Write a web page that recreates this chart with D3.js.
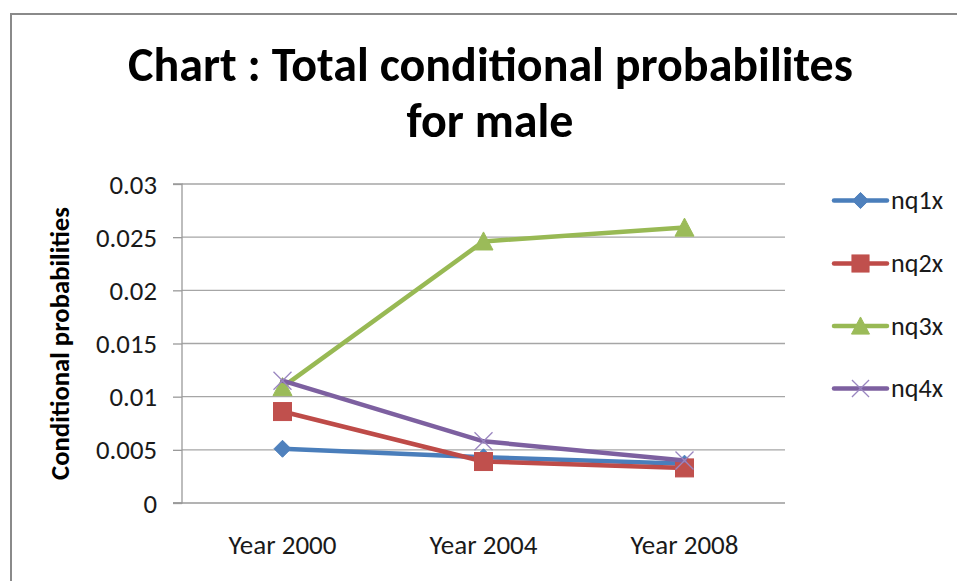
<!DOCTYPE html>
<html>
<head>
<meta charset="utf-8">
<script src="https://cdn.jsdelivr.net/npm/d3@7"></script>
<style>
  html, body { margin: 0; padding: 0; background: #fff; }
  svg { display: block; }
  text { font-family: Carlito, Lato, "Open Sans", sans-serif; }
</style>
</head>
<body>
<svg id="chart" width="957" height="581"></svg>
<script>
const categories = ["Year 2000", "Year 2004", "Year 2008"];
const seriesNames = ["nq1x", "nq2x", "nq3x", "nq4x"];
const nq1x = [0.0051, 0.0043, 0.0037];
const nq2x = [0.0086, 0.0039, 0.0033];
const nq3x = [0.0109, 0.0246, 0.0259];
const nq4x = [0.0115, 0.0058, 0.0040];
const yTicks = [0, 0.005, 0.01, 0.015, 0.02, 0.025, 0.03];
const yTickLabels = ["0", "0.005", "0.01", "0.015", "0.02", "0.025", "0.03"];
const titleLines = ["Chart : Total conditional probabilites", "for male"];
const yAxisTitle = "Conditional probabilities";

const seriesValues = [nq1x, nq2x, nq3x, nq4x];
const lineColors = ["#4A7EBB", "#BE4B48", "#98B954", "#7D60A0"];
const markerColors = ["#4F81BD", "#C0504D", "#9BBB59", "#9A86C0"];
const markerTypes = ["diamond", "square", "triangle", "x"];

const svg = d3.select("#chart");

// Outer chart border (extends beyond the visible frame)
svg.append("rect")
  .attr("x", 11).attr("y", 14).attr("width", 1200).attr("height", 1200)
  .attr("fill", "none").attr("stroke", "#8a8a8a").attr("stroke-width", 2);

function fit(sel, target, start) {
  sel.style("font-size", start + "px");
  const w = sel.node().getComputedTextLength();
  sel.style("font-size", (start * target / w).toFixed(2) + "px");
  return start * target / w;
}

const plot = { left: 182, right: 785, top: 184, bottom: 503 };

const x = d3.scaleBand().domain(categories).range([plot.left, plot.right]).padding(0);
const y = d3.scaleLinear().domain([0, 0.03]).range([plot.bottom, plot.top]);

// Gridlines
const grid = svg.append("g");
grid.selectAll("line").data(yTicks.filter(d => d > 0)).join("line")
  .attr("x1", plot.left).attr("x2", plot.right)
  .attr("y1", d => y(d)).attr("y2", d => y(d))
  .attr("stroke", "#a6a6a6").attr("stroke-width", 1.3);

// Y axis
const yAxis = d3.axisLeft(y).tickValues(yTicks)
  .tickFormat((d, i) => yTickLabels[i]).tickSize(9).tickPadding(16);
const yg = svg.append("g").attr("transform", `translate(${plot.left},0)`).call(yAxis);
yg.select(".domain").attr("stroke", "#9a9a9a").attr("stroke-width", 1.3)
  .attr("d", `M-9,${plot.top}H0V${plot.bottom}H-9`);
yg.selectAll(".tick line").attr("stroke", "#9a9a9a").attr("stroke-width", 1.3);
yg.selectAll(".tick text").attr("fill", "#1a1a1a").attr("dy", "0.34em");
// fit tick label size using the "0.025" label width (~61px)
{
  const t = yg.selectAll(".tick text").filter((d, i) => yTickLabels[i] === "0.025");
  t.style("font-size", "20px");
  const w = t.node().getComputedTextLength();
  const fs = 20 * 61 / w;
  yg.selectAll(".tick text").style("font-size", fs.toFixed(2) + "px").style("font-family", "Carlito, Lato, 'Open Sans', sans-serif");
}

// X axis
const xAxis = d3.axisBottom(x).tickSize(0).tickPadding(0);
const xg = svg.append("g").attr("transform", `translate(0,${plot.bottom})`).call(xAxis);
xg.select(".domain").attr("stroke", "#9a9a9a").attr("stroke-width", 1.3)
  .attr("d", `M${plot.left - 9},0H${plot.right}`);
xg.selectAll(".tick text").attr("fill", "#1a1a1a").attr("y", 51).attr("dy", 0);
{
  const t = xg.select(".tick text");
  t.style("font-size", "20px");
  const w = t.node().getComputedTextLength();
  const fs = 20 * 108 / w;
  xg.selectAll(".tick text").style("font-size", fs.toFixed(2) + "px").style("font-family", "Carlito, Lato, 'Open Sans', sans-serif");
}

// Title
const t1 = svg.append("text").attr("x", 490.5).attr("y", 81).attr("text-anchor", "middle")
  .attr("font-weight", "bold").attr("fill", "#000").text(titleLines[0]);
const tfs = fit(t1, 725, 44);
svg.append("text").attr("x", 490).attr("y", 137).attr("text-anchor", "middle")
  .attr("font-weight", "bold").attr("fill", "#000").style("font-size", tfs.toFixed(2) + "px").text(titleLines[1]);

// Y axis title
const yt = svg.append("text")
  .attr("transform", `translate(69,${(207 + 480) / 2}) rotate(-90)`)
  .attr("text-anchor", "middle").attr("font-weight", "bold").attr("fill", "#000")
  .text(yAxisTitle);
fit(yt, 273, 20);

// Marker drawing
function drawMarker(g, type, cx, cy, i, scale) {
  const s = scale || 1;
  if (type === "diamond") {
    const r = 8.5 * s;
    g.append("path").attr("d", `M${cx},${cy - r}L${cx + r},${cy}L${cx},${cy + r}L${cx - r},${cy}Z`)
      .attr("fill", markerColors[i]).attr("stroke", markerColors[i]).attr("stroke-width", 1);
  } else if (type === "square") {
    const r = 9 * s;
    g.append("rect").attr("x", cx - r).attr("y", cy - r).attr("width", 2 * r).attr("height", 2 * r)
      .attr("fill", markerColors[i]).attr("stroke", markerColors[i]).attr("stroke-width", 1);
  } else if (type === "triangle") {
    const r = 9.5 * s;
    g.append("path").attr("d", `M${cx},${cy - r}L${cx + r},${cy + r * 0.9}L${cx - r},${cy + r * 0.9}Z`)
      .attr("fill", markerColors[i]).attr("stroke", markerColors[i]).attr("stroke-width", 1);
  } else if (type === "x") {
    const r = 9 * s;
    g.append("path").attr("d", `M${cx - r},${cy - r}L${cx + r},${cy + r}M${cx - r},${cy + r}L${cx + r},${cy - r}`)
      .attr("fill", "none").attr("stroke", markerColors[i]).attr("stroke-width", 1.3);
  }
}

// Series
const line = d3.line().x((d, j) => x(categories[j]) + x.bandwidth() / 2).y(d => y(d));
seriesValues.forEach((vals, i) => {
  const g = svg.append("g");
  g.append("path").datum(vals).attr("d", line)
    .attr("fill", "none").attr("stroke", lineColors[i]).attr("stroke-width", 4.5)
    .attr("stroke-linejoin", "round").attr("stroke-linecap", "round");
  vals.forEach((v, j) => drawMarker(g, markerTypes[i], x(categories[j]) + x.bandwidth() / 2, y(v), i));
});

// Legend
const legendY = [200.5, 263.5, 326, 388.5];
const leg = svg.append("g");
seriesNames.forEach((name, i) => {
  const g = leg.append("g");
  g.append("line").attr("x1", 834).attr("x2", 887).attr("y1", legendY[i]).attr("y2", legendY[i])
    .attr("stroke", lineColors[i]).attr("stroke-width", 4.5).attr("stroke-linecap", "round");
  drawMarker(g, markerTypes[i], 860.5, legendY[i], i, 0.95);
  const tx = g.append("text").attr("x", 891).attr("y", legendY[i]).attr("dy", "0.34em")
    .attr("fill", "#1a1a1a").text(name);
  fit(tx, 52, 20);
});
</script>
</body>
</html>
